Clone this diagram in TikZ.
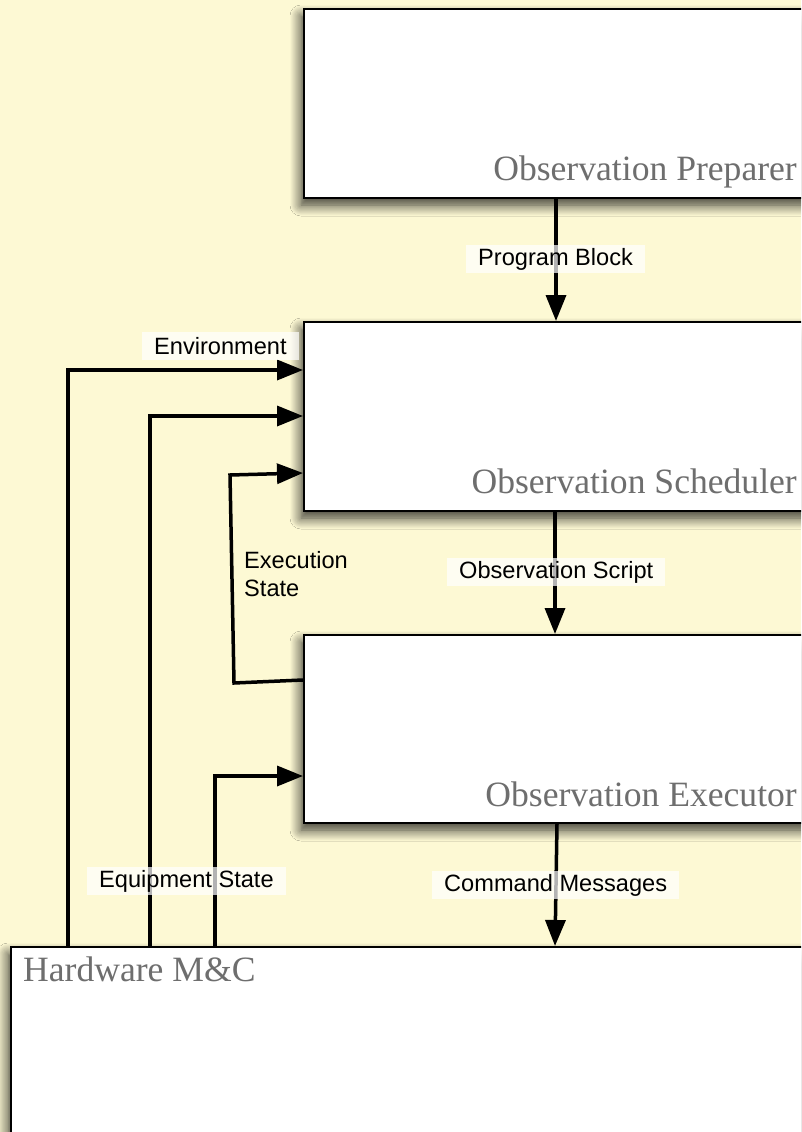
\documentclass[tikz,border=0pt]{standalone}
\usepackage{fontspec}
\setmainfont{Liberation Serif}
\setsansfont{Liberation Sans}
\usetikzlibrary{arrows.meta,shadows.blur,calc}
\definecolor{bgyellow}{RGB}{253,249,212}
\definecolor{titlegray}{RGB}{110,110,110}
\begin{document}
\begin{tikzpicture}[x=1pt,y=-1pt,
  component/.style={draw=black, line width=2pt, fill=white, anchor=north west,
    minimum width=900pt, inner sep=0pt,
    blur shadow={shadow xshift=-3pt, shadow yshift=-7pt, shadow blur radius=11pt,
      shadow blur steps=12, shadow opacity=80}},
  title/.style={font=\fontsize{35.6}{40}\selectfont, text=titlegray, inner sep=0pt},
  flow/.style={line width=3.5pt, -{Triangle[length=26pt,width=20pt]}},
  tag/.style={font=\sffamily\fontsize{23.6}{28}\selectfont, fill=white, fill opacity=0.7,
    text opacity=1, inner xsep=12pt, inner ysep=0pt, minimum height=28pt, anchor=west},
]
\useasboundingbox (0,0) rectangle (801,1132);
\clip (0,0) rectangle (801,1132);
\fill[bgyellow] (0,0) rectangle (801,1132);

% components
\node[component, minimum height=189pt] (prep)  at (303,8)   {};
\node[component, minimum height=189pt] (sched) at (303,321) {};
\node[component, minimum height=188pt] (exec)  at (303,634) {};
\node[component, minimum height=300pt] (hw)    at (10,946)  {};

% component titles
\node[title, anchor=base east] (prepT)  at (797,180) {Observation Preparer};
\node[title, anchor=base east] (schedT) at (797,493) {Observation Scheduler};
\node[title, anchor=base east] (execT)  at (797,806) {Observation Executor};
\node[title, anchor=base west] (hwT)    at (23,981)  {Hardware M\&C};

% downward flows
\draw[flow] ($(prep.south west)+(253,0)$) -- ($(sched.north west)+(253,0)$);
\draw[flow] ($(sched.south west)+(252,0)$) -- ($(exec.north west)+(252,0)$);
\draw[flow] ($(exec.south west)+(254,0)$) -- ($(hw.north west)+(545,0)$);

% feedback from hardware
\draw[flow] ($(hw.north west)+(58,0)$) |- ($(sched.north west)+(0,49)$);
\draw[flow] ($(hw.north west)+(140,0)$) |- ($(sched.north west)+(0,95)$);
\draw[flow] ($(hw.north west)+(205,0)$) |- ($(exec.north west)+(0,142)$);

% execution state loop
\coordinate (esA) at (234,683);
\coordinate (esB) at (230,475);
\draw[flow] ($(exec.north west)+(0,46)$) -- (esA) -- (esB) -- ($(sched.north west)+(0,152)$);

% flow labels
\node[tag] (pbL)  at (466,259) {Program Block};
\node[tag] (envL) at (142,346) {Environment};
\node[tag] (osL)  at (447,572) {Observation Script};
\node[tag] (eqL)  at (87,881)  {Equipment State};
\node[tag] (cmL)  at (432,885) {Command Messages};
\node[font=\sffamily\fontsize{23.6}{28}\selectfont, align=left, anchor=base west, inner sep=0pt]
  (esL) at (244,596) {Execution\\State};
\end{tikzpicture}
\end{document}
